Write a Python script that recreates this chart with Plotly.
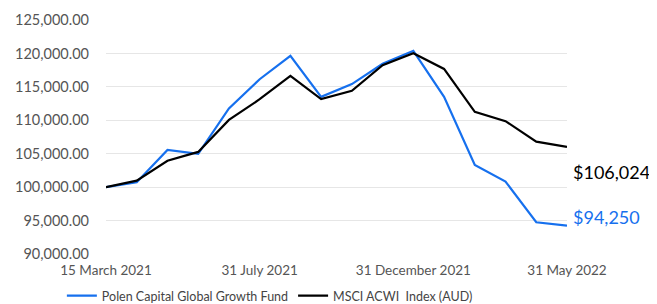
import plotly.graph_objects as go

dates = ["15 March 2021", "31 March 2021", "30 April 2021", "31 May 2021", "30 June 2021",
         "31 July 2021", "31 August 2021", "30 September 2021", "31 October 2021",
         "30 November 2021", "31 December 2021", "31 January 2022", "28 February 2022",
         "31 March 2022", "30 April 2022", "31 May 2022"]
polen = [100000, 100730, 105560, 104970, 111770, 116140, 119630, 113510, 115420,
         118450, 120370, 113510, 103320, 100830, 94750, 94250]
msci = [100000, 100970, 103940, 105270, 110050, 113150, 116650, 113160, 114420,
        118250, 120020, 117680, 111270, 109870, 106810, 106024]
tick_labels = ["15 March 2021", "31 July 2021", "31 December 2021", "31 May 2022"]
end_labels = ["$106,024", "$94,250"]

BLUE = "#1670EE"
BLACK = "#000000"
FONT = "Lato"

fig = go.Figure()
fig.add_trace(go.Scatter(x=dates, y=polen, mode="lines", name="Polen Capital Global Growth Fund",
                         line=dict(color=BLUE, width=2.2)))
fig.add_trace(go.Scatter(x=dates, y=msci, mode="lines", name="MSCI ACWI  Index (AUD)",
                         line=dict(color=BLACK, width=2.2)))

fig.add_annotation(x=dates[-1], y=msci[-1], text=end_labels[0], showarrow=False,
                   xanchor="left", yanchor="middle", xshift=4, yshift=-25,
                   font=dict(family=FONT, size=18, color=BLACK))
fig.add_annotation(x=dates[-1], y=polen[-1], text=end_labels[1], showarrow=False,
                   xanchor="left", yanchor="middle", xshift=4, yshift=9,
                   font=dict(family=FONT, size=18, color=BLUE))

# page body has an 8px default margin, so the figure is sized/placed to compensate
fig.update_layout(
    width=649, height=296,
    margin=dict(l=98, r=90, t=12, b=50, autoexpand=False),
    paper_bgcolor="white", plot_bgcolor="white",
    font=dict(family=FONT, size=13, color="#555555"),
    showlegend=True,
    legend=dict(orientation="h", x=0.083, xanchor="left", xref="container",
                y=0.027, yanchor="middle", yref="container",
                font=dict(family=FONT, size=12.5, color="#444444"), itemwidth=30,
                traceorder="normal"),
)
fig.update_xaxes(type="category", tickmode="array", tickvals=tick_labels, ticktext=tick_labels,
                 showgrid=False, showline=False, ticks="", range=[0, len(dates) - 1],
                 ticklabelstandoff=6, automargin=False,
                 tickfont=dict(family=FONT, size=13.5, color="#555555"))
fig.update_yaxes(range=[90000, 125000], dtick=5000, tickformat=",.2f", showgrid=True,
                 gridcolor="#E6E6E6", gridwidth=1.2, zeroline=False, showline=False,
                 ticklabelstandoff=16, automargin=False,
                 tickfont=dict(family=FONT, size=14.5, color="#555555"))

fig.write_html("out.html")
